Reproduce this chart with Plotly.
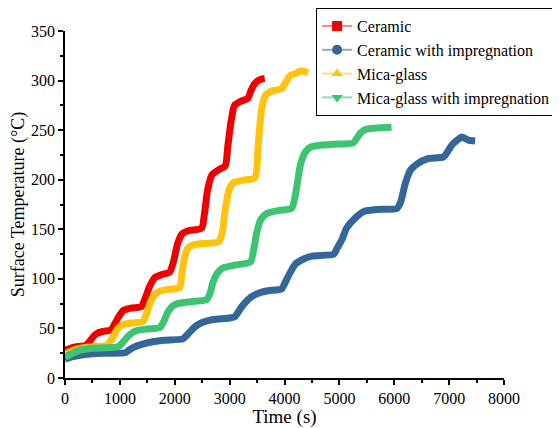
import plotly.graph_objects as go

# ---- data ----
ceramic_t = [0, 150, 380, 450, 520, 600, 700, 840, 900, 980, 1060, 1200, 1390, 1460, 1540, 1640, 1750, 1910,
             1980, 2050, 2130, 2250, 2490, 2540, 2600, 2680, 2800, 2920, 2970, 3030, 3090, 3200, 3330, 3390,
             3460, 3550, 3640]
ceramic_T = [28, 31, 33, 37, 42, 45.5, 47, 48.5, 54, 62, 68, 70.5, 72, 80, 92, 101.5, 104, 107,
             118, 135, 145, 148.5, 151, 165, 190, 205, 210, 214, 235, 260, 275, 279, 282, 290,
             297, 301, 302]

cer_imp_t = [0, 150, 400, 700, 1100, 1150, 1250, 1400, 1600, 1800, 2150, 2200, 2300, 2400, 2500, 2700, 3000,
             3100, 3150, 3250, 3400, 3550, 3700, 3950, 4000, 4100, 4200, 4350, 4500, 4900, 4950, 5050, 5130,
             5300, 5450, 5700, 6050, 6120, 6200, 6300, 6420, 6600, 6900, 6970, 7050, 7150, 7230, 7350, 7474]
cer_imp_T = [19, 21.5, 24, 25, 25.5, 27.5, 31, 34, 36.5, 38, 39.5, 42, 48, 53, 56, 59, 60.5,
             62, 66, 74, 82, 86, 88, 90, 95, 106, 115, 120, 123, 125, 130, 140, 151,
             162, 168, 170, 171, 178, 196, 210, 216, 221, 223, 228, 235, 240, 243, 240, 239]

mica_t = [0, 150, 400, 760, 850, 950, 1040, 1200, 1420, 1480, 1560, 1640, 1720, 1900, 2090, 2130, 2180,
          2240, 2350, 2600, 2800, 2860, 2920, 2990, 3070, 3250, 3460, 3520, 3580, 3650, 3750, 3950, 4020,
          4100, 4200, 4300, 4430]
mica_T = [24, 28, 31, 33, 39, 49, 53.5, 55.5, 57, 64, 77, 84.5, 87.5, 89.5, 91, 105, 122,
          131, 134.5, 136, 137.5, 145, 170, 190, 197, 199.5, 202, 235, 270, 285, 289, 292, 298,
          305, 307, 310, 308]

mica_imp_t = [0, 100, 280, 500, 970, 1040, 1130, 1220, 1320, 1500, 1730, 1790, 1870, 1950, 2050, 2300, 2580,
              2640, 2700, 2780, 2880, 3100, 3380, 3440, 3500, 3570, 3680, 3900, 4130, 4200, 4290, 4380, 4480,
              4700, 5000, 5250, 5320, 5400, 5500, 5650, 5950]
mica_imp_T = [21, 24, 28, 30, 31.5, 35, 41, 45.5, 48, 49.5, 51, 56, 66, 72, 75, 77, 79,
              85, 97, 106, 111, 114, 117, 130, 148, 160, 166, 169, 171, 185, 215, 228, 233,
              235, 236, 237, 242, 248, 251, 252, 253]

names = ["Ceramic", "Ceramic with impregnation", "Mica-glass", "Mica-glass with impregnation"]
colors = ["#EE0000", "#336699", "#FFC20E", "#3DC473"]
legend_line_colors = ["#F58A8A", "#8FA9C7", "#FFDC80", "#8EDBAE"]
symbols = ["square", "circle", "triangle-up", "triangle-down"]
series = [(ceramic_t, ceramic_T), (cer_imp_t, cer_imp_T), (mica_t, mica_T), (mica_imp_t, mica_imp_T)]

fig = go.Figure()
for (t, T), c in zip(series, colors):
    fig.add_trace(go.Scatter(x=t, y=T, mode="lines", showlegend=False,
                             line=dict(color=c, width=7, shape="spline", smoothing=0.6),
                             hoverinfo="skip"))
for n, c, lc, s in zip(names, colors, legend_line_colors, symbols):
    fig.add_trace(go.Scatter(x=[None], y=[None], mode="lines+markers", name=n,
                             line=dict(color=lc, width=2),
                             marker=dict(color=c, symbol=s, size=10)))

font = "Liberation Serif, Times New Roman, serif"
fig.update_layout(
    width=552, height=420,
    margin=dict(l=57, r=56, t=23, b=50, autoexpand=False),
    paper_bgcolor="white", plot_bgcolor="white",
    font=dict(family=font, size=16, color="black"),
    showlegend=True,
    legend=dict(x=0.572, y=1.066, xanchor="left", yanchor="top", xref="paper", yref="paper",
                bordercolor="black", borderwidth=1, bgcolor="white",
                font=dict(family=font, size=16, color="black"),
                tracegroupgap=0, itemwidth=30),
    xaxis=dict(range=[0, 8000], tickvals=[0, 1000, 2000, 3000, 4000, 5000, 6000, 7000, 8000],
               showgrid=False, zeroline=False, showline=True, linecolor="black", linewidth=1.5,
               ticks="outside", ticklen=5, tickwidth=1.5, tickcolor="black",
               tickfont=dict(family=font, size=16),
               minor=dict(dtick=500, ticks="outside", ticklen=3, tickwidth=1.5, tickcolor="black"),
               title=dict(text="Time (s)", font=dict(family=font, size=19), standoff=4)),
    yaxis=dict(range=[0, 350], tickvals=[0, 50, 100, 150, 200, 250, 300, 350],
               showgrid=False, zeroline=False, showline=True, linecolor="black", linewidth=1.5,
               ticks="outside", ticklen=5, tickwidth=1.5, tickcolor="black",
               tickfont=dict(family=font, size=16),
               minor=dict(dtick=25, ticks="outside", ticklen=3, tickwidth=1.5, tickcolor="black"),
               title=dict(text="Surface Temperature (°C)", font=dict(family=font, size=18), standoff=6)),
)

fig.write_html("out.html")
